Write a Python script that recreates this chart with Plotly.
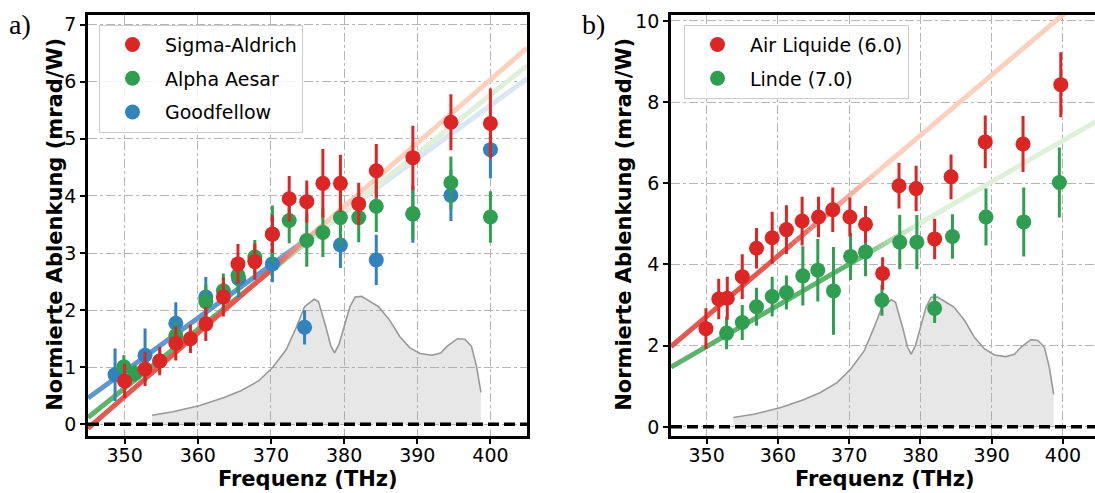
import plotly.graph_objects as go
import numpy as np

# ---------------- Panel a) data ----------------
sa_f = [350.0, 352.8, 354.8, 357.0, 359.0, 361.1, 363.5, 365.5, 367.8, 370.2, 372.5, 374.9, 377.1, 379.5, 382.0, 384.4, 389.4, 394.6, 400.0]
sa_v = [0.76, 0.97, 1.11, 1.42, 1.50, 1.76, 2.23, 2.81, 2.85, 3.33, 3.95, 3.90, 4.22, 4.22, 3.86, 4.44, 4.67, 5.29, 5.27]
sa_e = [0.30, 0.30, 0.25, 0.30, 0.25, 0.30, 0.34, 0.35, 0.32, 0.33, 0.40, 0.37, 0.60, 0.50, 0.37, 0.47, 0.56, 0.49, 0.61]

aa_f = [349.9, 351.4, 354.8, 357.0, 361.1, 363.5, 365.5, 367.8, 370.2, 372.5, 374.9, 377.1, 379.5, 382.0, 384.4, 389.4, 394.6, 400.0]
aa_v = [1.01, 0.89, 1.11, 1.55, 2.15, 2.34, 2.61, 2.93, 3.33, 3.57, 3.22, 3.36, 3.62, 3.62, 3.82, 3.69, 4.23, 3.63]
aa_e = [0.20, 0.15, 0.20, 0.25, 0.30, 0.30, 0.30, 0.30, 0.50, 0.40, 0.46, 0.43, 0.50, 0.43, 0.45, 0.45, 0.46, 0.45]

gf_f = [348.7, 352.8, 357.0, 361.1, 365.6, 370.2, 374.6, 379.5, 384.4, 389.4, 394.6, 400.0]
gf_v = [0.87, 1.21, 1.77, 2.23, 2.55, 2.81, 1.70, 3.14, 2.88, 3.68, 4.01, 4.81]
gf_e = [0.46, 0.47, 0.37, 0.35, 0.32, 0.32, 0.30, 0.40, 0.44, 0.50, 0.45, 0.50]

# linear fits (value at 345 THz, slope per THz), fade start / end
fit_a = {
    "Goodfellow": (0.46, 0.0932, 371.0, 379.0),
    "Alpha Aesar": (0.12, 0.1027, 368.0, 377.0),
    "Sigma-Aldrich": (-0.07, 0.1110, 370.0, 378.0),
}

# ---------------- Panel b) data ----------------
al_f = [349.9, 351.7, 352.9, 355.0, 357.0, 359.2, 361.2, 363.4, 365.7, 367.7, 370.1, 372.3, 374.7, 377.0, 379.4, 382.0, 384.3, 389.1, 394.4, 399.7]
al_v = [2.42, 3.15, 3.17, 3.70, 4.40, 4.66, 4.86, 5.07, 5.17, 5.35, 5.17, 4.99, 3.78, 5.94, 5.87, 4.63, 6.16, 7.02, 6.97, 8.43]
al_e = [0.50, 0.50, 0.53, 0.55, 0.50, 0.64, 0.60, 0.60, 0.50, 0.55, 0.48, 0.45, 0.40, 0.56, 0.56, 0.50, 0.55, 0.65, 0.69, 0.80]

li_f = [352.8, 355.0, 357.0, 359.2, 361.2, 363.5, 365.6, 367.8, 370.2, 372.3, 374.6, 377.1, 379.5, 382.0, 384.5, 389.2, 394.5, 399.5]
li_v = [2.31, 2.57, 2.96, 3.21, 3.31, 3.72, 3.86, 3.35, 4.20, 4.31, 3.12, 4.55, 4.55, 2.92, 4.69, 5.17, 5.05, 6.02]
li_e = [0.40, 0.43, 0.47, 0.49, 0.42, 0.73, 0.77, 1.08, 0.58, 0.60, 0.38, 0.67, 0.67, 0.36, 0.55, 0.70, 0.85, 0.86]

fit_b = {
    "Linde (7.0)": (1.47, 0.1015, 370.0, 380.0),
    "Air Liquide (6.0)": (1.98, 0.1486, 361.0, 374.0),
}

# ---------------- Spectrum (gray background) ----------------
spec_f = [353.75, 356.6, 360.3, 363.6, 365.9, 368.3, 370.2, 372.1, 373.5, 374.6, 375.9, 376.5, 377.5, 378.2, 378.7,
          379.3, 380.0, 380.8, 381.5, 382.4, 383.6, 384.7, 386.2, 387.6, 389.0, 390.4, 392.0, 393.2, 394.1, 395.5,
          396.5, 397.4, 398.1, 398.7]
spec_a = [0.16, 0.22, 0.33, 0.47, 0.59, 0.76, 0.99, 1.31, 1.71, 2.06, 2.19, 2.15, 1.71, 1.37, 1.25,
          1.40, 1.71, 2.06, 2.23, 2.24, 2.15, 2.06, 1.83, 1.54, 1.34, 1.24, 1.21, 1.25, 1.37, 1.50,
          1.49, 1.37, 1.02, 0.56]
spec_b = [0.23, 0.31, 0.47, 0.67, 0.84, 1.09, 1.42, 1.87, 2.45, 2.95, 3.13, 3.07, 2.45, 1.96, 1.79,
          2.00, 2.45, 2.95, 3.19, 3.20, 3.07, 2.95, 2.62, 2.20, 1.92, 1.77, 1.73, 1.79, 1.96, 2.15,
          2.13, 1.96, 1.46, 0.80]

x_ticks = [350, 360, 370, 380, 390, 400]

COL = {
    "red": "#dc2626",
    "green": "#2f9e50",
    "blue": "#3182bd",
}
LINE_SOLID = {"red": (229, 88, 80), "green": (95, 180, 108), "blue": (95, 152, 206)}
LINE_PALE = {"red": (253, 208, 190), "green": (222, 240, 216), "blue": (216, 230, 245)}

fig = go.Figure()


def fit_line(name, params, cname, xa, ya, x0=345.0, x1=405.0, nseg=24):
    b0, m, fs, fe = params
    def yv(x):
        return b0 + m * (x - 345.0)
    c0 = np.array(LINE_SOLID[cname], float)
    c1 = np.array(LINE_PALE[cname], float)
    fig.add_trace(go.Scatter(x=[x0, fs], y=[yv(x0), yv(fs)], mode="lines", xaxis=xa, yaxis=ya,
                             line=dict(color="rgb(%d,%d,%d)" % tuple(c0), width=5),
                             showlegend=False, hoverinfo="skip"))
    edges = np.linspace(fs, fe, nseg + 1)
    for i in range(nseg):
        t = (i + 0.5) / nseg
        c = c0 + (c1 - c0) * t
        fig.add_trace(go.Scatter(x=[edges[i], edges[i + 1]], y=[yv(edges[i]), yv(edges[i + 1])],
                                 mode="lines", xaxis=xa, yaxis=ya,
                                 line=dict(color="rgb(%d,%d,%d)" % tuple(c.astype(int)), width=5),
                                 showlegend=False, hoverinfo="skip"))
    fig.add_trace(go.Scatter(x=[fe, x1], y=[yv(fe), yv(x1)], mode="lines", xaxis=xa, yaxis=ya,
                             line=dict(color="rgb(%d,%d,%d)" % tuple(c1), width=5),
                             showlegend=False, hoverinfo="skip"))


def spectrum(xa, ya, vals):
    fig.add_trace(go.Scatter(x=spec_f, y=vals, mode="lines", fill="tozeroy", xaxis=xa, yaxis=ya,
                             line=dict(color="#999999", width=1.6),
                             fillcolor="rgba(170,170,170,0.28)", showlegend=False, hoverinfo="skip"))


def zero_line(xa, ya):
    fig.add_trace(go.Scatter(x=[345, 405], y=[0, 0], mode="lines", xaxis=xa, yaxis=ya,
                             line=dict(color="black", width=3.5, dash="11px,5px"),
                             showlegend=False, hoverinfo="skip"))


def points(name, f, v, e, cname, xa, ya, legend, rank):
    fig.add_trace(go.Scatter(x=f, y=v, mode="markers", name=name, xaxis=xa, yaxis=ya,
                             marker=dict(color=COL[cname], size=15),
                             error_y=dict(type="data", array=e, thickness=3, width=0, color=COL[cname]),
                             legend=legend, legendrank=rank, legendgroup=name, hoverinfo="skip"))


# ---- Panel a
spectrum("x", "y", spec_a)
fit_line("Goodfellow", fit_a["Goodfellow"], "blue", "x", "y")
fit_line("Alpha Aesar", fit_a["Alpha Aesar"], "green", "x", "y")
fit_line("Sigma-Aldrich", fit_a["Sigma-Aldrich"], "red", "x", "y")
zero_line("x", "y")
points("Goodfellow", gf_f, gf_v, gf_e, "blue", "x", "y", "legend", 3)
points("Alpha Aesar", aa_f, aa_v, aa_e, "green", "x", "y", "legend", 2)
points("Sigma-Aldrich", sa_f, sa_v, sa_e, "red", "x", "y", "legend", 1)

# ---- Panel b
spectrum("x2", "y2", spec_b)
fit_line("Linde (7.0)", fit_b["Linde (7.0)"], "green", "x2", "y2")
fit_line("Air Liquide (6.0)", fit_b["Air Liquide (6.0)"], "red", "x2", "y2")
zero_line("x2", "y2")
points("Linde (7.0)", li_f, li_v, li_e, "green", "x2", "y2", "legend2", 2)
points("Air Liquide (6.0)", al_f, al_v, al_e, "red", "x2", "y2", "legend2", 1)

W, H = 1095, 493
tickfont = dict(family="DejaVu Sans", size=19, color="black")

common_x = dict(range=[345, 405], tickvals=x_ticks, ticks="outside", ticklen=5, tickwidth=1.5,
                tickcolor="black", showline=True, linecolor="black", linewidth=2.5, mirror=True,
                showgrid=True, gridcolor="#b5b5b5", griddash="dashdot", gridwidth=1,
                zeroline=False, tickfont=tickfont)
common_y = dict(ticks="outside", ticklen=5, tickwidth=1.5, tickcolor="black", showline=True,
                linecolor="black", linewidth=2.5, showgrid=True, gridcolor="#b5b5b5",
                griddash="dashdot", gridwidth=1, zeroline=False, tickfont=tickfont)

ann = []
for xc, lab in [(55, "Normierte Ablenkung (mrad/W)"), (624, "Normierte Ablenkung (mrad/W)")]:
    ann.append(dict(text="<b>%s</b>" % lab, x=xc / W, y=1 - 223 / H, xref="paper", yref="paper",
                    xanchor="center", yanchor="middle", textangle=-90, showarrow=False,
                    font=dict(family="DejaVu Sans", size=21, color="black")))
for xc in [308, 885]:
    ann.append(dict(text="<b>Frequenz (THz)</b>", x=xc / W, y=1 - 481 / H, xref="paper", yref="paper",
                    xanchor="center", yanchor="middle", showarrow=False,
                    font=dict(family="DejaVu Sans", size=21, color="black")))
ann.append(dict(text="a)", x=7 / W, y=1 - 2 / H, xref="paper", yref="paper", xanchor="left",
                yanchor="top", showarrow=False, font=dict(family="Liberation Serif", size=28, color="black")))
ann.append(dict(text="b)", x=580 / W, y=1 - 2 / H, xref="paper", yref="paper", xanchor="left",
                yanchor="top", showarrow=False, font=dict(family="Liberation Serif", size=28, color="black")))

fig.update_layout(
    width=W, height=H,
    margin=dict(l=0, r=0, t=0, b=0),
    paper_bgcolor="white", plot_bgcolor="white",
    showlegend=True,
    xaxis=dict(common_x, domain=[88 / W, 527 / W], anchor="y"),
    yaxis=dict(common_y, domain=[1 - 437 / H, 1 - 10 / H], range=[-0.2, 7.17],
               tickvals=[0, 1, 2, 3, 4, 5, 6, 7], mirror=True, anchor="x"),
    xaxis2=dict(common_x, domain=[671 / W, 1.0], anchor="y2", range=[345, 404.5]),
    yaxis2=dict(common_y, domain=[1 - 437 / H, 1 - 10 / H], range=[-0.22, 10.15],
                tickvals=[0, 2, 4, 6, 8, 10], mirror=False, anchor="x2"),
    legend=dict(x=99 / W, y=1 - 20 / H, xanchor="left", yanchor="top",
                bgcolor="rgba(255,255,255,0.85)", bordercolor="#cccccc", borderwidth=1,
                font=dict(family="DejaVu Sans", size=19, color="black"),
                tracegroupgap=6, itemwidth=55),
    legend2=dict(x=684 / W, y=1 - 20 / H, xanchor="left", yanchor="top",
                 bgcolor="rgba(255,255,255,0.85)", bordercolor="#cccccc", borderwidth=1,
                 font=dict(family="DejaVu Sans", size=19, color="black"),
                 tracegroupgap=6, itemwidth=55),
    annotations=ann,
)

# pull x tick labels slightly closer to the axis, if supported
try:
    fig.update_xaxes(ticklabelstandoff=-4)
except Exception:
    pass

fig.write_html("out.html")
